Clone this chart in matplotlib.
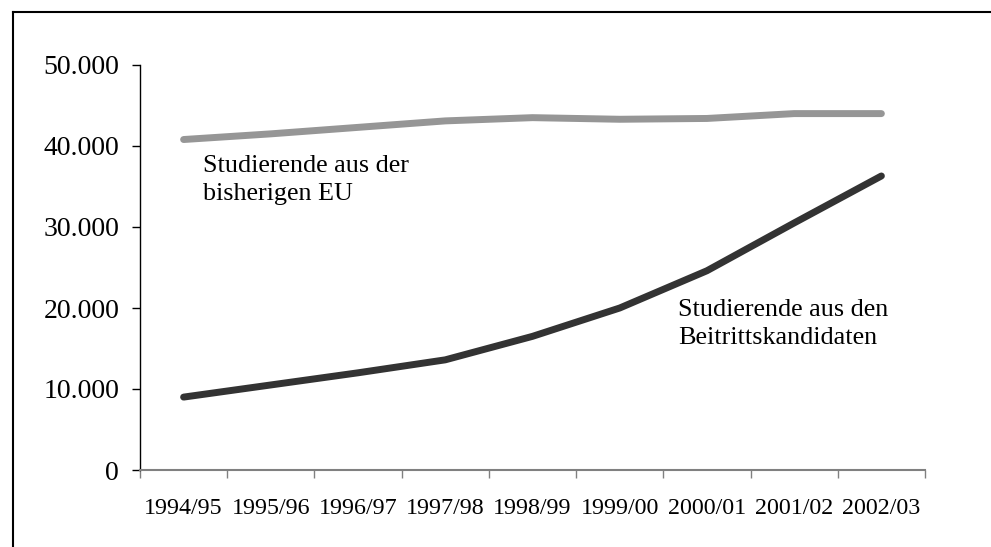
import matplotlib.pyplot as plt
from matplotlib.lines import Line2D
from matplotlib.ticker import FuncFormatter, FixedLocator

plt.rcParams['font.family'] = ['Liberation Serif', 'DejaVu Serif']

# Daten
semester = ['1994/95', '1995/96', '1996/97', '1997/98', '1998/99',
            '1999/00', '2000/01', '2001/02', '2002/03']
eu_bisher = [40800, 41500, 42300, 43100, 43500, 43300, 43400, 44000, 44000]
beitritt = [9000, 10500, 12000, 13600, 16500, 20000, 24600, 30500, 36300]

fig = plt.figure(figsize=(9.91, 5.47), dpi=100)
ax = fig.add_axes([140/991, 1-470/547, (925-140)/991, (470-65)/547])

x = range(len(semester))
ax.plot(x, eu_bisher, color='#969696', lw=5, solid_capstyle='round', solid_joinstyle='round')
ax.plot(x, beitritt, color='#333333', lw=5, solid_capstyle='round', solid_joinstyle='round')

ax.set_xlim(-0.5, len(semester) - 0.5)
ax.set_ylim(0, 50000)
ax.set_yticks(range(0, 50001, 10000))
ax.yaxis.set_major_formatter(FuncFormatter(lambda v, p: f'{int(v):,}'.replace(',', '.')))

# Striche zwischen den Kategorien, Beschriftung in der Mitte
ax.xaxis.set_major_locator(FixedLocator([i - 0.5 for i in range(len(semester) + 1)]))
ax.xaxis.set_minor_locator(FixedLocator(list(x)))
ax.set_xticklabels([''] * (len(semester) + 1))
ax.set_xticklabels(semester, minor=True)
ax.tick_params(axis='x', which='major', length=6, width=1, color='#808080', direction='out')
ax.tick_params(axis='x', which='minor', length=0, pad=20, labelsize=17.3)
ax.tick_params(axis='y', length=6, width=1, color='black', pad=9, labelsize=20)

for s in ['top', 'right']:
    ax.spines[s].set_visible(False)
ax.spines['bottom'].set_color('#808080')
ax.spines['bottom'].set_linewidth(1.5)
ax.spines['left'].set_linewidth(1)

ax.text(0.22, 38900, 'Studierende aus der\nbisherigen EU', fontsize=18.8,
        va='top', ha='left', linespacing=1.35)
ax.text(5.67, 21100, 'Studierende aus den\nBeitrittskandidaten', fontsize=18.8,
        va='top', ha='left', linespacing=1.35)

# Rahmen oben und links
fig.add_artist(Line2D([13/991, 1.01], [1-12/547, 1-12/547], color='black', lw=1.5))
fig.add_artist(Line2D([13/991, 13/991], [-0.01, 1-12/547], color='black', lw=1.5))

plt.savefig('out.png', dpi=100)
